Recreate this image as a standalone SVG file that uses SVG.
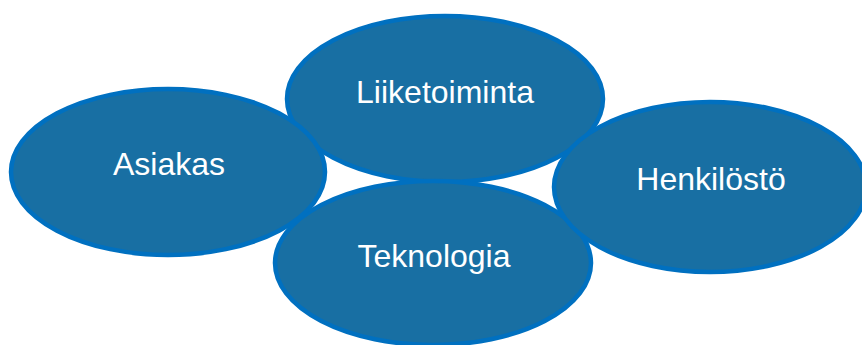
<svg xmlns="http://www.w3.org/2000/svg" width="862" height="345" viewBox="0 0 862 345">
<style>
.n{fill:#186FA3;stroke:#0070C0;stroke-width:4.5}
.t{fill:#fff;font-family:"Liberation Sans",Arial,sans-serif;font-size:32px;text-anchor:middle}
</style>
<rect width="862" height="345" fill="#fff"/>
<g id="connectors"/>
<g id="liiketoiminta"><ellipse class="n" cx="445" cy="99" rx="158" ry="83"/><text class="t" x="445" y="103">Liiketoiminta</text></g>
<g id="teknologia"><ellipse class="n" cx="433" cy="263" rx="158" ry="82"/><text class="t" x="434" y="267">Teknologia</text></g>
<g id="asiakas"><ellipse class="n" cx="168" cy="172" rx="157" ry="83"/><text class="t" x="169" y="175">Asiakas</text></g>
<g id="henkilosto"><ellipse class="n" cx="710" cy="187" rx="156" ry="85"/><text class="t" x="711" y="190">Henkilöstö</text></g>
</svg>
